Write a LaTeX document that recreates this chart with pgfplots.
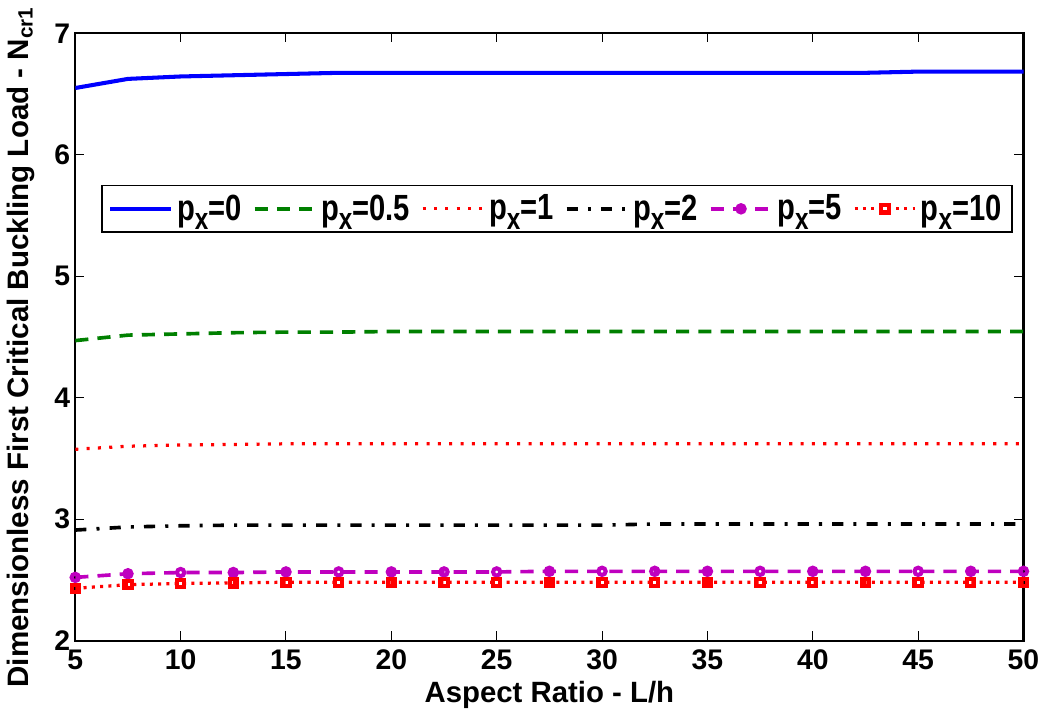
\documentclass[border=0pt]{standalone}
\usepackage{fontspec}
\setmainfont{Liberation Sans}
\usepackage{graphicx}
\usepackage{pgfplots}
\pgfplotsset{compat=1.18}
\definecolor{mblue}{rgb}{0,0,1}
\definecolor{mgreen}{rgb}{0,0.5,0}
\definecolor{mred}{rgb}{1,0,0}
\definecolor{mmag}{rgb}{0.75,0,0.75}
% legend text: narrow, with a large lowered subscript x
\newcommand\px[1]{\scalebox{0.8}[1]{p\raisebox{-0.5ex}{\fontsize{15}{16}\selectfont x}=#1}}

\begin{document}
\begin{tikzpicture}
\begin{axis}[
    scale only axis,
    width=468.5pt,
    height=300pt,
    xmin=5, xmax=50,
    ymin=2, ymax=7,
    xtick={5,10,...,50},
    ytick={2,3,...,7},
    tick align=inside,
    major tick length=4.5pt,
    axis line style={line width=1pt},
    every tick/.style={black, line width=0.5pt},
    ticklabel style={font=\bfseries\fontsize{14}{15}\selectfont},
    /pgf/number format/assume math mode=true,
    xticklabel style={yshift=-1pt},
    yticklabel style={xshift=1pt},
    xlabel={\bfseries Aspect Ratio - L/h},
    ylabel={\bfseries Dimensionless First Critical Buckling Load - N\textsubscript{cr1}},
    xlabel style={font=\bfseries\fontsize{14.5}{15}\selectfont, yshift=1pt},
    ylabel style={font=\bfseries\fontsize{14.6}{16}\selectfont, yshift=3pt, xshift=-5pt},
    legend columns=6,
    legend style={at={(0.508,0.711)}, anchor=center, draw=black, line width=0.8pt,
        font=\bfseries\fontsize{18}{19}\selectfont, inner xsep=3pt, inner ysep=2.5pt,
        /tikz/every even column/.append style={column sep=3.5pt}},
    legend image code/.code={\draw[mark repeat=2, mark phase=2, #1]
        plot coordinates {(0pt,0pt) (15pt,0pt) (30pt,0pt)};},
    legend cell align=left,
]
\addplot[mblue, line width=2pt] coordinates {
(5,6.55) (7.5,6.625) (10,6.645) (12.5,6.655) (15,6.665) (17.5,6.675) (20,6.675)
(22.5,6.675) (25,6.675) (27.5,6.675) (30,6.675) (32.5,6.675) (35,6.675) (37.5,6.675)
(40,6.675) (42.5,6.675) (45,6.685) (47.5,6.685) (50,6.685)};
\addlegendentry{\px{0}}
\addplot[mgreen, line width=1.8pt, dash pattern=on 6.5pt off 4.5pt] coordinates {
(5,4.47) (7.5,4.515) (10,4.525) (12.5,4.535) (15,4.54) (17.5,4.54) (20,4.545)
(22.5,4.545) (25,4.545) (27.5,4.545) (30,4.545) (32.5,4.545) (35,4.545) (37.5,4.545)
(40,4.545) (42.5,4.545) (45,4.545) (47.5,4.545) (50,4.545)};
\addlegendentry{\px{0.5}}
\addplot[mred, line width=1.6pt, dash pattern=on 1.5pt off 4.1pt] coordinates {
(5,3.575) (7.5,3.6) (10,3.61) (12.5,3.615) (15,3.62) (17.5,3.62) (20,3.62)
(22.5,3.62) (25,3.62) (27.5,3.62) (30,3.62) (32.5,3.62) (35,3.62) (37.5,3.62)
(40,3.62) (42.5,3.62) (45,3.62) (47.5,3.62) (50,3.62)};
\addlegendentry{\px{1}}
\addplot[black, line width=1.8pt, dash pattern=on 5.5pt off 5pt on 1.5pt off 5pt] coordinates {
(5,2.91) (7.5,2.935) (10,2.945) (12.5,2.95) (15,2.95) (17.5,2.95) (20,2.95)
(22.5,2.95) (25,2.95) (27.5,2.95) (30,2.95) (32.5,2.96) (35,2.96) (37.5,2.96)
(40,2.96) (42.5,2.96) (45,2.96) (47.5,2.96) (50,2.96)};
\addlegendentry{\px{2}}
\addplot[mmag, line width=1.8pt, dash pattern=on 6.5pt off 4.5pt, mark=o, mark size=1.8pt,
    mark options={solid, line width=2pt}] coordinates {
(5,2.52) (7.5,2.55) (10,2.56) (12.5,2.56) (15,2.565) (17.5,2.565) (20,2.565)
(22.5,2.565) (25,2.565) (27.5,2.57) (30,2.57) (32.5,2.57) (35,2.57) (37.5,2.57)
(40,2.57) (42.5,2.57) (45,2.57) (47.5,2.57) (50,2.57)};
\addlegendentry{\px{5}}
\addplot[mred, line width=1.6pt, dash pattern=on 1.5pt off 2.6pt, mark=square, mark size=1.8pt,
    mark options={solid, line width=2pt}] coordinates {
(5,2.43) (7.5,2.46) (10,2.47) (12.5,2.475) (15,2.48) (17.5,2.48) (20,2.48)
(22.5,2.48) (25,2.48) (27.5,2.48) (30,2.48) (32.5,2.48) (35,2.48) (37.5,2.48)
(40,2.48) (42.5,2.48) (45,2.48) (47.5,2.48) (50,2.48)};
\addlegendentry{\px{10}}
\end{axis}
\end{tikzpicture}
\end{document}
